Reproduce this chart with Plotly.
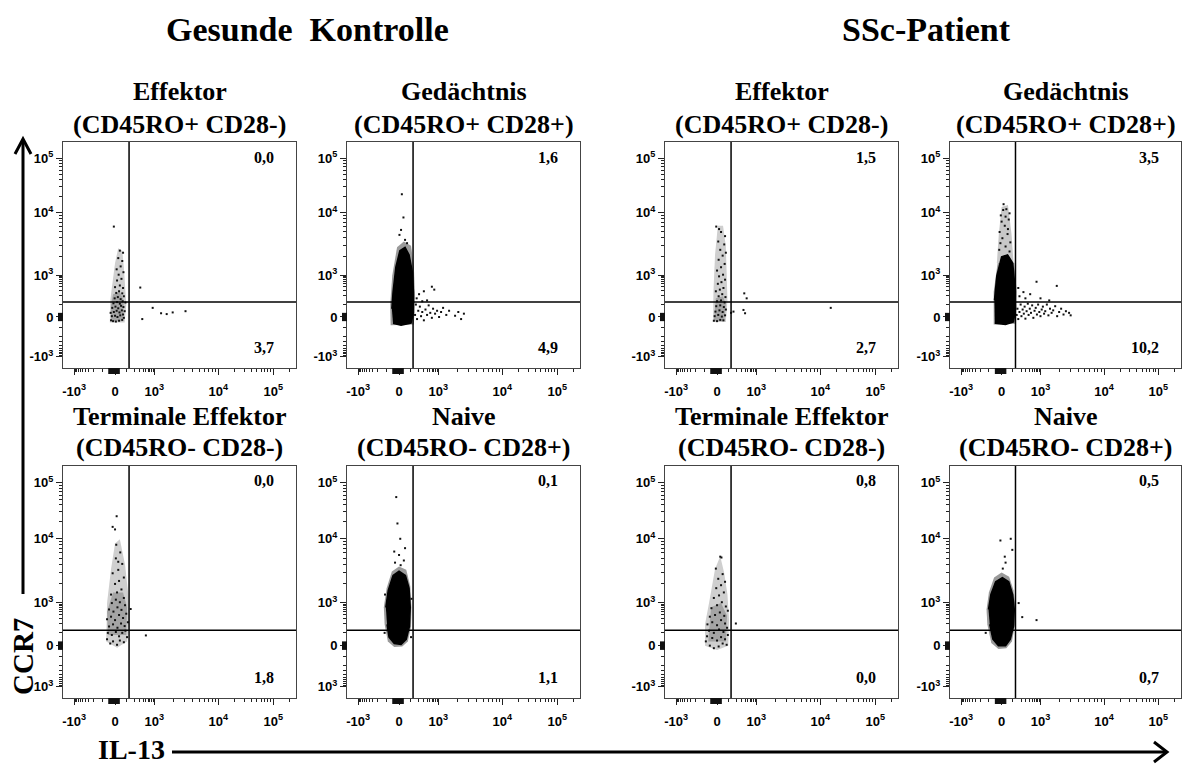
import math
import plotly.graph_objects as go

W, H = 1182, 764

# ---------------- data ----------------
GROUP_TITLES = ["Gesunde  Kontrolle", "SSc-Patient"]
PANEL_NAMES = ["Effektor", "Gedächtnis", "Effektor", "Gedächtnis",
               "Terminale Effektor", "Naive", "Terminale Effektor", "Naive"]
PANEL_MARKERS = ["(CD45RO+ CD28-)", "(CD45RO+ CD28+)", "(CD45RO+ CD28-)", "(CD45RO+ CD28+)",
                 "(CD45RO- CD28-)", "(CD45RO- CD28+)", "(CD45RO- CD28-)", "(CD45RO- CD28+)"]
UPPER_RIGHT = ["0,0", "1,6", "1,5", "3,5", "0,0", "0,1", "0,8", "0,5"]
LOWER_RIGHT = ["3,7", "4,9", "2,7", "10,2", "1,8", "1,1", "0,0", "0,7"]
X_TITLE = "IL-13"
Y_TITLE = "CCR7"
X_TICK_LABELS = ["-10<sup>3</sup>", "0", "10<sup>3</sup>", "10<sup>4</sup>", "10<sup>5</sup>"]
Y_TICK_LABELS = ["-10<sup>3</sup>", "0", "10<sup>3</sup>", "10<sup>4</sup>", "10<sup>5</sup>"]
Y_TICK_LABELS_NOMINUS = ["10<sup>3</sup>", "0", "10<sup>3</sup>", "10<sup>4</sup>", "10<sup>5</sup>"]
# display (biexponential channel) positions of the decades
X_TICK_AT = [-1.02, 0.0, 0.98, 2.58, 3.95]
Y_TICK_AT = [-0.96, 0.0, 1.01, 2.51, 3.83]
GATE_X = 0.35
GATE_Y = 0.36

# --- event outlines (display units) and single events ---
GK_EFF_HAZE = [(-0.13, -0.13), (0.24, -0.13), (0.28, 0.3), (0.26, 0.7), (0.22, 1.2), (0.18, 1.6),
               (0.08, 1.66), (0.0, 1.3), (-0.06, 0.8), (-0.12, 0.4)]
GK_EFF_CORE = [(-0.1, -0.1), (0.2, -0.1), (0.22, 0.4), (0.12, 0.6), (-0.05, 0.55), (-0.1, 0.3)]
GK_EFF_DOTS = [(-0.10, -0.08), (-0.05, -0.10), (0.02, -0.11), (0.10, -0.09), (0.18, -0.07), (0.22, -0.02),
               (-0.08, 0.02), (0.00, 0.03), (0.06, 0.00), (0.13, 0.04), (0.20, 0.06), (-0.11, 0.10),
               (-0.03, 0.12), (0.04, 0.15), (0.11, 0.11), (0.17, 0.16), (0.24, 0.14), (-0.07, 0.22),
               (0.01, 0.25), (0.08, 0.21), (0.15, 0.27), (0.21, 0.24), (-0.04, 0.33), (0.05, 0.36),
               (0.12, 0.32), (0.19, 0.38), (0.26, 0.35), (-0.01, 0.45), (0.07, 0.48), (0.14, 0.43),
               (0.22, 0.50), (0.03, 0.58), (0.10, 0.62), (0.18, 0.57), (0.00, 0.72), (0.12, 0.76),
               (0.20, 0.70), (0.05, 0.88), (0.16, 0.92), (0.09, 1.02), (0.21, 1.08), (0.04, 1.15),
               (0.14, 1.22), (0.18, 1.35), (0.08, 1.42), (0.20, 1.55), (0.12, 1.60), (-0.03, 2.18),
               (0.63, 0.71), (0.94, 0.22), (1.15, 0.09), (1.29, 0.07), (1.44, 0.11), (1.76, 0.14),
               (0.68, -0.05)]

GK_MEM_HAZE = [(-0.21, -0.2), (0.37, -0.18), (0.4, 0.5), (0.37, 1.2), (0.3, 1.72), (0.12, 1.82),
               (-0.05, 1.68), (-0.17, 1.0), (-0.22, 0.3)]
GK_MEM_CORE = [(-0.15, -0.15), (0.05, -0.2), (0.3, -0.15), (0.36, 0.1), (0.36, 0.6), (0.33, 1.1),
               (0.25, 1.5), (0.15, 1.68), (0.02, 1.6), (-0.08, 1.2), (-0.15, 0.6), (-0.18, 0.2)]
GK_MEM_DOTS = [(0.40, 0.05), (0.45, -0.05), (0.48, 0.15), (0.52, 0.25), (0.55, 0.02), (0.58, 0.12),
               (0.62, -0.08), (0.66, 0.18), (0.70, 0.05), (0.74, 0.28), (0.78, 0.10), (0.82, -0.02),
               (0.85, 0.20), (0.90, 0.08), (0.95, 0.15), (1.00, 0.00), (1.05, 0.12), (1.10, 0.22),
               (1.18, 0.05), (1.25, 0.15), (1.40, 0.03), (1.48, 0.12), (1.55, -0.05), (1.62, 0.08),
               (0.44, 0.45), (0.50, 0.55), (0.62, 0.62), (0.82, 0.73), (0.88, 0.66), (0.70, 0.40),
               (0.58, 0.38), (0.42, 0.30), (0.07, 2.96), (0.11, 2.40), (0.01, 1.98), (0.15, 1.86),
               (0.05, 2.10), (0.20, 1.78)]

SSC_EFF_HAZE = [(-0.1, -0.12), (0.22, -0.12), (0.26, 0.4), (0.24, 1.0), (0.22, 1.7), (0.15, 2.2),
                (0.02, 2.2), (-0.05, 1.5), (-0.09, 0.6)]
SSC_EFF_CORE = [(-0.08, -0.1), (0.18, -0.1), (0.22, 0.3), (0.15, 0.5), (-0.03, 0.45)]
SSC_EFF_DOTS = [(-0.08, -0.09), (0.0, -0.1), (0.08, -0.07), (0.16, -0.08), (-0.06, 0.02), (0.03, 0.05),
                (0.12, 0.01), (0.2, 0.04), (-0.04, 0.13), (0.06, 0.16), (0.14, 0.12), (0.22, 0.18),
                (-0.02, 0.26), (0.08, 0.28), (0.17, 0.24), (0.0, 0.38), (0.1, 0.4), (0.19, 0.35),
                (0.04, 0.5), (0.13, 0.55), (0.21, 0.48), (-0.03, 0.62), (0.07, 0.66), (0.16, 0.7),
                (0.02, 0.8), (0.11, 0.84), (0.2, 0.9), (0.05, 0.98), (0.15, 1.02), (0.0, 1.12),
                (0.1, 1.2), (0.19, 1.28), (0.04, 1.38), (0.14, 1.48), (0.22, 1.55), (0.08, 1.62),
                (0.18, 1.75), (0.03, 1.82), (0.2, 1.95), (0.1, 2.05), (-0.02, 2.18), (0.05, 2.12),
                (0.41, 0.13), (0.68, 0.57), (0.74, 0.45), (0.70, 0.09), (0.66, 0.17), (2.84, 0.22),
                (0.35, 0.10)]

SSC_MEM_HAZE = [(-0.2, -0.18), (0.36, -0.16), (0.38, 0.6), (0.32, 1.3), (-0.1, 1.3), (-0.2, 0.6)]
SSC_MEM_SPIKE = [(-0.12, 1.3), (0.3, 1.3), (0.25, 2.0), (0.16, 2.7), (0.0, 2.65), (-0.07, 2.0)]
SSC_MEM_CORE = [(-0.17, -0.15), (0.1, -0.18), (0.3, -0.12), (0.35, 0.2), (0.33, 0.8), (0.28, 1.3),
                (0.15, 1.5), (0.0, 1.45), (-0.12, 1.0), (-0.18, 0.4)]
SSC_MEM_DOTS = [(0.05, 2.72), (0.12, 2.6), (-0.02, 2.45), (0.18, 2.35), (0.08, 2.2), (-0.05, 2.05),
                (0.15, 2.0), (0.02, 1.9), (0.22, 1.8), (0.1, 1.7), (-0.06, 1.62), (0.2, 2.5),
                (0.0, 2.3), (0.1, 2.42), (0.04, 2.58), (0.16, 2.12), (-0.03, 1.78), (0.2, 1.58),
                (0.38, 0.05), (0.4, 0.2), (0.42, -0.05), (0.45, 0.12), (0.48, 0.3), (0.5, 0.02),
                (0.53, 0.18), (0.56, 0.08), (0.58, 0.25), (0.6, -0.04), (0.63, 0.14), (0.66, 0.32),
                (0.68, 0.05), (0.71, 0.2), (0.74, 0.1), (0.77, 0.28), (0.8, -0.02), (0.83, 0.15),
                (0.86, 0.22), (0.89, 0.06), (0.92, 0.3), (0.95, 0.12), (0.98, 0.02), (1.01, 0.18),
                (1.04, 0.25), (1.07, 0.08), (1.1, 0.14), (1.14, 0.3), (1.18, 0.04), (1.22, 0.2),
                (1.26, 0.1), (1.3, 0.16), (1.35, 0.26), (1.4, 0.02), (1.45, 0.12), (1.5, 0.2),
                (1.56, 0.06), (1.62, 0.14), (1.7, 0.1), (1.74, 0.04), (0.45, 0.5), (0.55, 0.6),
                (0.72, 0.55), (0.88, 0.85), (1.39, 0.75), (0.6, 0.45), (0.98, 0.45), (0.42, 0.7),
                (1.2, 0.4)]

GK_TEFF_HAZE = [(-0.22, 0.1), (0.05, -0.05), (0.3, 0.1), (0.36, 0.6), (0.33, 1.2), (0.25, 1.9),
                (0.12, 2.5), (0.0, 2.4), (-0.1, 1.8), (-0.2, 1.0)]
GK_TEFF_CORE = [(-0.18, 0.25), (0.28, 0.25), (0.3, 0.9), (0.2, 1.25), (-0.05, 1.25), (-0.2, 0.8)]
GK_TEFF_DOTS = [(-0.2, 0.15), (-0.12, 0.05), (-0.05, 0.1), (0.05, 0.02), (0.12, 0.12), (0.22, 0.08),
                (0.3, 0.2), (-0.18, 0.3), (-0.08, 0.25), (0.02, 0.32), (0.1, 0.22), (0.18, 0.3),
                (0.26, 0.35), (-0.15, 0.45), (-0.05, 0.5), (0.06, 0.42), (0.15, 0.52), (0.24, 0.46),
                (0.32, 0.55), (-0.2, 0.62), (-0.1, 0.68), (0.0, 0.6), (0.1, 0.72), (0.2, 0.65),
                (0.28, 0.75), (-0.15, 0.85), (-0.04, 0.8), (0.06, 0.9), (0.16, 0.84), (0.25, 0.95),
                (-0.08, 1.0), (0.02, 1.08), (0.12, 1.02), (0.22, 1.12), (-0.1, 1.2), (0.05, 1.25),
                (0.16, 1.32), (0.0, 1.45), (0.1, 1.52), (0.22, 1.6), (-0.06, 1.7), (0.08, 1.78),
                (0.18, 1.92), (0.02, 2.05), (0.13, 2.19), (0.03, 2.37), (-0.06, 2.79), (0.0, 2.73),
                (0.04, 3.04), (0.08, 1.97), (0.77, 0.24), (0.39, 0.86)]

GK_NAIVE_HAZE = [(-0.36, 0.5), (-0.28, 0.1), (-0.12, -0.03), (0.08, -0.02), (0.22, 0.1), (0.3, 0.45),
                 (0.31, 0.9), (0.28, 1.4), (0.18, 1.78), (0.0, 1.86), (-0.18, 1.74), (-0.31, 1.35),
                 (-0.38, 0.9)]
GK_NAIVE_CORE = [(-0.3, 0.5), (-0.25, 0.2), (-0.12, 0.05), (0.05, 0.03), (0.18, 0.15), (0.26, 0.45),
                 (0.28, 0.9), (0.25, 1.35), (0.16, 1.65), (0.0, 1.75), (-0.15, 1.65), (-0.27, 1.3),
                 (-0.33, 0.9)]
GK_NAIVE_DOTS = [(-0.07, 3.49), (-0.04, 2.87), (0.03, 2.51), (0.15, 2.29), (-0.12, 2.21), (0.0, 2.13),
                 (0.04, 1.89), (-0.1, 1.95), (0.12, 2.0), (-0.36, 0.3), (0.3, 0.2), (-0.35, 1.2),
                 (0.31, 1.1)]

SSC_TEFF_HAZE = [(-0.3, 0.0), (0.0, -0.1), (0.28, 0.0), (0.3, 0.6), (0.26, 1.2), (0.18, 1.7),
                 (0.08, 2.1), (-0.05, 1.8), (-0.2, 1.0), (-0.3, 0.5)]
SSC_TEFF_CORE = [(-0.22, 0.1), (0.22, 0.1), (0.25, 0.7), (0.1, 1.0), (-0.15, 0.9)]
SSC_TEFF_DOTS = [(-0.28, 0.1), (-0.18, 0.0), (-0.08, -0.06), (0.04, -0.02), (0.14, 0.05), (0.24, 0.02),
                 (-0.25, 0.22), (-0.12, 0.18), (0.0, 0.12), (0.1, 0.2), (0.2, 0.15), (0.27, 0.25),
                 (-0.2, 0.35), (-0.08, 0.3), (0.05, 0.38), (0.16, 0.32), (0.25, 0.42), (-0.24, 0.5),
                 (-0.12, 0.55), (0.0, 0.48), (0.1, 0.6), (0.2, 0.52), (-0.18, 0.68), (-0.05, 0.72),
                 (0.07, 0.78), (0.18, 0.7), (0.27, 0.82), (-0.14, 0.88), (0.0, 0.95), (0.12, 1.02),
                 (0.22, 0.92), (-0.08, 1.12), (0.05, 1.18), (0.17, 1.25), (-0.02, 1.35), (0.1, 1.42),
                 (0.2, 1.5), (0.03, 1.57), (0.14, 1.68), (-0.03, 1.81), (0.08, 2.09), (0.11, 2.07),
                 (0.47, 0.52)]

SSC_NAIVE_HAZE = [(-0.36, 0.5), (-0.26, 0.06), (-0.08, -0.08), (0.12, -0.06), (0.26, 0.1), (0.34, 0.5),
                  (0.35, 0.9), (0.3, 1.3), (0.19, 1.62), (0.0, 1.72), (-0.19, 1.6), (-0.32, 1.25),
                  (-0.38, 0.85)]
SSC_NAIVE_CORE = [(-0.3, 0.5), (-0.22, 0.15), (-0.08, 0.0), (0.1, 0.0), (0.22, 0.15), (0.3, 0.45),
                  (0.32, 0.85), (0.28, 1.2), (0.18, 1.5), (0.02, 1.6), (-0.15, 1.5), (-0.27, 1.2),
                  (-0.33, 0.85)]
SSC_NAIVE_DOTS = [(-0.03, 2.47), (0.23, 2.51), (0.08, 2.09), (0.03, 1.81), (0.27, 2.25), (0.52, 0.67),
                  (0.88, 0.6), (0.43, 1.0), (-0.4, 0.3), (0.1, 1.95)]

PANELS = [
    ([GK_EFF_HAZE], GK_EFF_CORE, GK_EFF_DOTS, "sparse"),
    ([GK_MEM_HAZE], GK_MEM_CORE, GK_MEM_DOTS, "dense"),
    ([SSC_EFF_HAZE], SSC_EFF_CORE, SSC_EFF_DOTS, "sparse"),
    ([SSC_MEM_HAZE, SSC_MEM_SPIKE], SSC_MEM_CORE, SSC_MEM_DOTS, "dense"),
    ([GK_TEFF_HAZE], GK_TEFF_CORE, GK_TEFF_DOTS, "sparse"),
    ([GK_NAIVE_HAZE], GK_NAIVE_CORE, GK_NAIVE_DOTS, "dense"),
    ([SSC_TEFF_HAZE], SSC_TEFF_CORE, SSC_TEFF_DOTS, "sparse"),
    ([SSC_NAIVE_HAZE], SSC_NAIVE_CORE, SSC_NAIVE_DOTS, "dense"),
]

# ---------------- layout geometry (pixels) ----------------
COL_PX = [(63, 296), (347, 580), (665, 898), (950, 1181)]
ROW_PX = [(142, 368), (466, 698)]
X_RANGE = [-1.3, 4.52]
Y_RANGE = [-1.23, 4.22]
SERIF = "Liberation Serif"
SANS = "Liberation Sans"


def minor_positions(major):
    neg, zero, d3, d4, d5 = major
    out = []
    for k in range(1, 10):
        out.append(d3 + math.log10(k / 10) * 0.7)
        out.append(neg - math.log10(k / 10) * 0.7)
    for m in range(2, 10):
        out.append(d3 + math.log10(m) * (d4 - d3))
        out.append(d4 + math.log10(m) * (d5 - d4))
    out.append(d5 + math.log10(2) * (d5 - d4))
    return out


def px2x(px):
    return px / W


def px2y(py):
    return 1 - py / H


fig = go.Figure()
layout = dict(width=W, height=H, margin=dict(l=0, r=0, t=0, b=0),
              paper_bgcolor="white", plot_bgcolor="white", showlegend=False,
              hovermode=False)
shapes, annotations = [], []

for i, (hazes, core, dots, kind) in enumerate(PANELS):
    r, c = divmod(i, 4)
    s = "" if i == 0 else str(i + 1)
    x0, x1 = COL_PX[c]
    y0, y1 = ROW_PX[r]
    pw, ph = x1 - x0, y1 - y0
    ylabels = Y_TICK_LABELS_NOMINUS if i in (4, 5) else Y_TICK_LABELS
    common = dict(showgrid=False, zeroline=False, showline=True, mirror=True,
                  linecolor="#444", linewidth=1, ticks="outside", ticklen=6, tickwidth=1,
                  tickcolor="#222", fixedrange=True,
                  tickfont=dict(family=SANS, size=13, color="black"))
    layout["xaxis" + s] = dict(domain=[px2x(x0), px2x(x1)], anchor="y" + s, range=X_RANGE,
                               tickmode="array", tickvals=X_TICK_AT,
                               ticktext=["<b>%s</b>" % t for t in X_TICK_LABELS],
                               ticklabelstandoff=5,
                               minor=dict(tickmode="array", tickvals=minor_positions(X_TICK_AT),
                                          ticks="outside", ticklen=3, tickcolor="#222", showgrid=False),
                               **common)
    layout["yaxis" + s] = dict(domain=[px2y(y1), px2y(y0)], anchor="x" + s, range=Y_RANGE,
                               tickmode="array", tickvals=Y_TICK_AT,
                               ticktext=["<b>%s</b>" % t for t in ylabels],
                               minor=dict(tickmode="array", tickvals=minor_positions(Y_TICK_AT),
                                          ticks="outside", ticklen=3, tickcolor="#222", showgrid=False),
                               **common)
    xa, ya = "x" + s, "y" + s
    haze_col = "#cfcfcf" if kind == "sparse" else "#9a9a9a"
    core_col = "#a4a4a4" if kind == "sparse" else "black"
    for hz in hazes:
        fig.add_trace(go.Scatter(x=[p[0] for p in hz], y=[p[1] for p in hz], mode="lines",
                                 fill="toself", fillcolor=haze_col if hz is hazes[0] else "#c8c8c8",
                                 line=dict(width=0), xaxis=xa, yaxis=ya, hoverinfo="skip"))
    fig.add_trace(go.Scatter(x=[p[0] for p in core], y=[p[1] for p in core], mode="lines",
                             fill="toself", fillcolor=core_col,
                             line=dict(width=1.5 if kind == "dense" else 0, color=core_col),
                             xaxis=xa, yaxis=ya, hoverinfo="skip"))
    fig.add_trace(go.Scatter(x=[p[0] for p in dots], y=[p[1] for p in dots], mode="markers",
                             marker=dict(size=2, color="#111", symbol="square"),
                             xaxis=xa, yaxis=ya, hoverinfo="skip"))
    # dense tick clusters around zero (biexponential compression)
    shapes.append(dict(type="rect", xref=xa, yref=ya + " domain", x0=-0.17, x1=0.12,
                       y0=-6.0 / ph, y1=0, line=dict(width=0), fillcolor="#111"))
    shapes.append(dict(type="rect", xref=xa + " domain", yref=ya, x0=-5.0 / pw, x1=0,
                       y0=-0.1, y1=0.1, line=dict(width=0), fillcolor="#111"))
    # quadrant gates
    shapes.append(dict(type="line", xref=xa, yref=ya + " domain", x0=GATE_X, x1=GATE_X, y0=0, y1=1,
                       line=dict(color="black", width=1.5)))
    shapes.append(dict(type="line", xref=xa + " domain", yref=ya, x0=0, x1=1, y0=GATE_Y, y1=GATE_Y,
                       line=dict(color="black", width=1.5)))
    # quadrant percentages
    annotations.append(dict(xref=xa + " domain", yref=ya + " domain", x=1, y=1, xanchor="right",
                            yanchor="middle", xshift=-20, yshift=-15, showarrow=False,
                            text="<b>%s</b>" % UPPER_RIGHT[i],
                            font=dict(family=SERIF, size=16, color="black")))
    annotations.append(dict(xref=xa + " domain", yref=ya + " domain", x=1, y=0, xanchor="right",
                            yanchor="middle", xshift=-20, yshift=21, showarrow=False,
                            text="<b>%s</b>" % LOWER_RIGHT[i],
                            font=dict(family=SERIF, size=16, color="black")))
    # panel titles
    cx = (x0 + x1) / 2
    annotations.append(dict(xref="paper", yref="paper", x=px2x(cx), y=px2y(y0 - 50), showarrow=False,
                            xanchor="center", yanchor="middle", text="<b>%s</b>" % PANEL_NAMES[i],
                            font=dict(family=SERIF, size=26, color="black")))
    annotations.append(dict(xref="paper", yref="paper", x=px2x(cx), y=px2y(y0 - 18), showarrow=False,
                            xanchor="center", yanchor="middle", text="<b>%s</b>" % PANEL_MARKERS[i],
                            font=dict(family=SERIF, size=26, color="black")))

# group titles
for title, cx in zip(GROUP_TITLES, [307, 926]):
    annotations.append(dict(xref="paper", yref="paper", x=px2x(cx), y=px2y(30), showarrow=False,
                            xanchor="center", yanchor="middle", text="<b>%s</b>" % title,
                            font=dict(family=SERIF, size=34, color="black")))

# axis titles with arrows
annotations.append(dict(xref="paper", yref="paper", x=px2x(23), y=px2y(657), showarrow=False,
                        textangle=-90, xanchor="center", yanchor="middle", text="<b>%s</b>" % Y_TITLE,
                        font=dict(family=SERIF, size=29, color="black")))
annotations.append(dict(xref="paper", yref="paper", x=px2x(96), y=px2y(749), showarrow=False,
                        xanchor="left", yanchor="middle", text="<b>%s</b>" % X_TITLE,
                        font=dict(family=SERIF, size=28, color="black")))
shapes.append(dict(type="line", xref="paper", yref="paper", x0=px2x(23), x1=px2x(23),
                   y0=px2y(594), y1=px2y(140), line=dict(color="black", width=3)))
shapes.append(dict(type="path", xref="paper", yref="paper",
                   path="M %f,%f L %f,%f L %f,%f" % (px2x(15), px2y(154), px2x(23), px2y(139),
                                                      px2x(31), px2y(154)),
                   line=dict(color="black", width=3)))
shapes.append(dict(type="line", xref="paper", yref="paper", x0=px2x(172), x1=px2x(1166),
                   y0=px2y(752), y1=px2y(752), line=dict(color="black", width=3)))
shapes.append(dict(type="path", xref="paper", yref="paper",
                   path="M %f,%f L %f,%f L %f,%f" % (px2x(1154), px2y(742), px2x(1167), px2y(752),
                                                      px2x(1154), px2y(762)),
                   line=dict(color="black", width=3)))

layout["shapes"] = shapes
layout["annotations"] = annotations
fig.update_layout(**layout)
fig.write_html("out.html", config={"displayModeBar": False})
